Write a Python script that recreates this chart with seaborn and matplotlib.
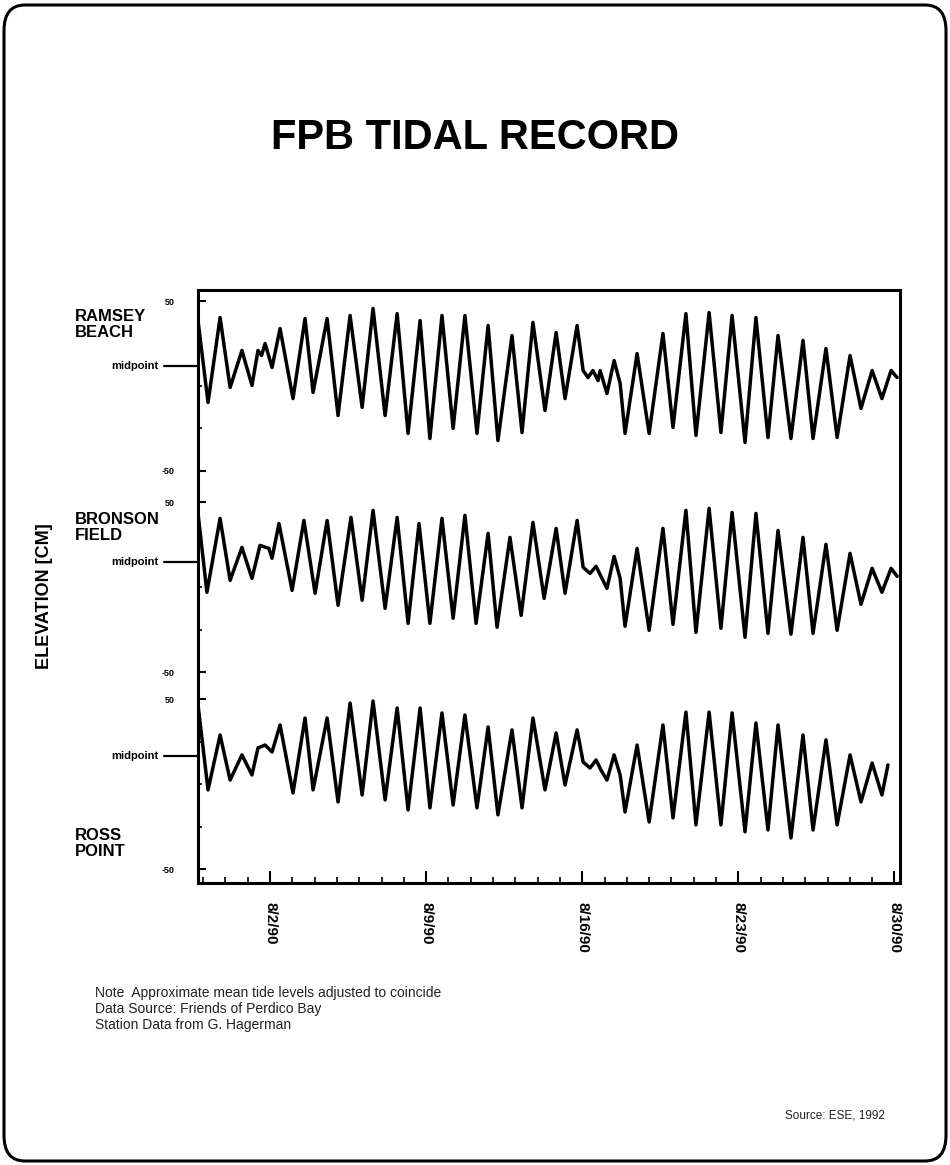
import matplotlib
matplotlib.use("Agg")
import matplotlib.pyplot as plt
import matplotlib.transforms as mtransforms
from matplotlib.patches import FancyBboxPatch
import numpy as np
import pandas as pd
import seaborn as sns

sns.set_theme(style="white")
plt.rcParams["font.family"] = ["Liberation Sans", "DejaVu Sans"]
plt.rcParams.update({"text.color": "black", "axes.labelcolor": "black",
                     "xtick.color": "black", "ytick.color": "black"})

# Time in days from 8/1/90 00:00, water level in cm (successive highs and lows)
ramsey_day = [-2.23, -1.78, -1.24, -0.79, -0.26, 0.19, 0.46, 0.62, 0.78, 1.09,
              1.45, 2.03, 2.57, 2.93, 3.56, 4.05, 4.59, 5.13, 5.62, 6.16,
              6.70, 7.19, 7.73, 8.17, 8.71, 9.21, 9.74, 10.28, 10.78, 11.22,
              11.85, 12.30, 12.79, 13.33, 13.83, 14.23, 14.77, 15.04, 15.26, 15.48,
              15.71, 15.80, 16.11, 16.43, 16.70, 16.92, 17.46, 18.00, 18.62, 19.07,
              19.65, 20.10, 20.69, 21.22, 21.72, 22.30, 22.79, 23.33, 23.78, 24.36,
              24.90, 25.35, 25.93, 26.43, 27.01, 27.50, 28.00, 28.44, 28.85, 29.12]
ramsey_cm = [38.5, -9.7, 40.3, -0.9, 20.9, 0.3, 20.9, 18.0, 25.0, 10.9,
             33.8, -7.4, 39.7, -3.8, 39.7, -17.4, 41.5, -12.6, 45.6, -17.4,
             42.6, -27.9, 38.5, -30.9, 41.5, -25.0, 41.5, -27.9, 35.6, -32.1,
             29.7, -27.4, 37.4, -14.4, 31.5, -7.4, 35.6, 9.1, 5.0, 9.1,
             3.2, 9.1, -4.4, 15.0, 1.5, -27.9, 19.1, -27.9, 30.9, -24.4,
             42.6, -29.1, 43.2, -27.4, 41.5, -33.2, 40.3, -30.3, 29.7, -30.9,
             26.8, -30.9, 22.1, -30.3, 17.9, -13.2, 9.1, -7.4, 9.1, 5.0]

bronson_day = [-2.23, -1.83, -1.24, -0.79, -0.26, 0.19, 0.55, 0.95, 1.09, 1.40,
               1.99, 2.52, 3.02, 3.56, 4.05, 4.63, 5.13, 5.62, 6.16, 6.70,
               7.19, 7.68, 8.17, 8.71, 9.21, 9.74, 10.24, 10.78, 11.18, 11.76,
               12.26, 12.79, 13.29, 13.83, 14.23, 14.77, 15.04, 15.35, 15.62, 15.84,
               16.11, 16.43, 16.70, 16.92, 17.46, 18.00, 18.62, 19.07, 19.65, 20.10,
               20.69, 21.22, 21.72, 22.30, 22.79, 23.33, 23.78, 24.36, 24.90, 25.35,
               25.93, 26.43, 27.01, 27.50, 28.00, 28.44, 28.85, 29.12]
bronson_cm = [43.5, -2.9, 40.6, 4.1, 23.5, 5.3, 24.7, 22.9, 17.1, 37.6,
              -1.8, 39.4, -3.5, 39.4, -10.6, 41.2, -7.6, 45.3, -12.4, 41.2,
              -21.2, 37.6, -21.2, 40.6, -18.2, 42.4, -21.2, 31.8, -23.5, 29.4,
              -16.5, 38.2, -6.5, 34.7, -3.5, 39.4, 11.8, 8.2, 12.4, 6.5,
              -0.6, 18.2, 5.3, -22.9, 22.9, -25.3, 34.7, -21.8, 45.3, -26.5,
              46.5, -24.1, 44.1, -29.4, 43.5, -27.1, 33.5, -27.6, 29.4, -27.1,
              25.3, -25.3, 20.0, -10.0, 11.2, -2.9, 11.2, 6.5]

ross_day = [-2.23, -1.78, -1.24, -0.79, -0.26, 0.19, 0.46, 0.78, 1.09, 1.45,
            2.03, 2.57, 2.93, 3.56, 4.05, 4.59, 5.13, 5.62, 6.16, 6.70,
            7.19, 7.73, 8.17, 8.71, 9.21, 9.74, 10.28, 10.78, 11.22, 11.85,
            12.30, 12.79, 13.33, 13.83, 14.23, 14.77, 15.04, 15.35, 15.62, 15.84,
            16.11, 16.43, 16.70, 16.92, 17.46, 18.00, 18.62, 19.07, 19.65, 20.10,
            20.69, 21.22, 21.72, 22.30, 22.79, 23.33, 23.78, 24.36, 24.90, 25.35,
            25.93, 26.43, 27.01, 27.50, 28.00, 28.44, 28.71]
ross_cm = [46.8, -3.2, 29.1, 2.6, 17.4, 5.6, 21.5, 23.2, 19.1, 35.0,
           -5.0, 39.1, -3.2, 39.1, -10.3, 47.9, -6.2, 49.1, -9.1, 45.0,
           -15.0, 45.0, -13.8, 42.1, -12.1, 40.9, -13.8, 33.8, -17.9, 32.1,
           -13.8, 39.1, -3.2, 30.3, -0.3, 32.1, 13.2, 9.7, 14.4, 8.5,
           2.6, 17.4, 5.6, -16.2, 23.2, -22.1, 35.0, -19.7, 42.6, -23.8,
           42.6, -23.8, 42.1, -27.9, 36.2, -26.8, 35.0, -31.5, 29.1, -26.8,
           26.2, -23.8, 17.4, -10.3, 12.6, -6.2, 11.5]

station_names = ["RAMSEY\nBEACH", "BRONSON\nFIELD", "ROSS\nPOINT"]
station_offsets = [292.5, 174.0, 58.0]      # vertical stacking of the three records
midpoint_cm = [11.5, 14.7, 16.8]
level_ticks = [-50, 50]
level_tick_labels = ["-50", "50"]
date_ticks = [1, 8, 15, 22, 29]
date_labels = ["8/2/90", "8/9/90", "8/16/90", "8/23/90", "8/30/90"]

series = [(ramsey_day, ramsey_cm), (bronson_day, bronson_cm), (ross_day, ross_cm)]
frames = []
for name, off, (d, v) in zip(station_names, station_offsets, series):
    frames.append(pd.DataFrame({"day": d, "level": np.asarray(v) + off,
                                "station": name}))
tides = pd.concat(frames, ignore_index=True)

W, H = 950, 1165
fig = plt.figure(figsize=(W / 100, H / 100), dpi=100)
fig.patch.set_facecolor("white")

ax = fig.add_axes([198 / W, 1 - 883 / H, 702 / W, 593 / H])
for name in station_names:
    sns.lineplot(data=tides[tides["station"] == name], x="day", y="level",
                 ax=ax, color="black", linewidth=2.5, estimator=None,
                 sort=False, legend=False, solid_joinstyle="round",
                 solid_capstyle="round")

ax.set_xlim(-2.23, 29.25)
ax.set_ylim(0, 349)
ax.set_xlabel("")
ax.set_ylabel("")
for sp in ax.spines.values():
    sp.set_color("black")
    sp.set_linewidth(2.2)

# elevation ticks for each record
yt, ytl, ymin = [], [], []
for off in station_offsets:
    for lv, lab in zip(level_ticks, level_tick_labels):
        yt.append(off + lv)
        ytl.append(lab)
    ymin.extend([off - 25, off, off + 25])
ax.set_yticks(yt)
ax.set_yticklabels(ytl, fontsize=6.5, fontweight="bold")
ax.set_yticks(ymin, minor=True)
ax.tick_params(axis="y", which="major", direction="in", length=6, width=1.5,
               pad=17, left=True, colors="black")
ax.tick_params(axis="y", which="minor", direction="in", length=3, width=1.2,
               left=True)

ax.set_xticks(date_ticks)
ax.set_xticklabels(date_labels, rotation=-90, fontsize=11, fontweight="bold",
                   va="top", ha="center")
ax.set_xticks(np.arange(-2, 30), minor=True)
ax.tick_params(axis="x", which="major", direction="in", length=9, width=1.5,
               pad=14, bottom=True, colors="black")
ax.tick_params(axis="x", which="minor", direction="in", length=4, width=1.2,
               bottom=True)
ax.grid(False)

# midpoint markers outside the left spine
trans = mtransforms.blended_transform_factory(ax.transAxes, ax.transData)
for off, mid in zip(station_offsets, midpoint_cm):
    ax.plot([-0.048, 0.0], [off + mid, off + mid], color="black", lw=1.6,
            transform=trans, clip_on=False)
    ax.text(-0.056, off + mid, "midpoint", transform=trans, ha="right",
            va="center", fontsize=8, fontweight="bold")

# station names
for name, yc in zip(station_names, [324.5, 527.5, 843.5]):
    fig.text(75 / W, 1 - yc / H, name, ha="left", va="center", fontsize=12,
             fontweight="bold", linespacing=1.05)

fig.text(45 / W, 1 - 596 / H, "ELEVATION [CM]", rotation=90, ha="center",
         va="center", fontsize=13, fontweight="bold")

fig.text(0.5, 1 - 138 / H, "FPB TIDAL RECORD", ha="center", va="center",
         fontsize=30, fontweight="bold")

notes = ["Note  Approximate mean tide levels adjusted to coincide",
         "Data Source: Friends of Perdico Bay",
         "Station Data from G. Hagerman"]
for i, line in enumerate(notes):
    fig.text(95 / W, 1 - (993 + 16 * i) / H, line, ha="left", va="center",
             fontsize=10, color="#222222")

fig.text(885 / W, 1 - 1116 / H, "Source: ESE, 1992", ha="right", va="center",
         fontsize=8.5, color="#222222")

frame = FancyBboxPatch((4 / W, 4 / H), 942 / W, 1156 / H,
                       boxstyle="round,pad=0,rounding_size=0.022",
                       transform=fig.transFigure, fill=False,
                       edgecolor="black", linewidth=2.2)
fig.patches.append(frame)

fig.savefig("out.png", dpi=100)
